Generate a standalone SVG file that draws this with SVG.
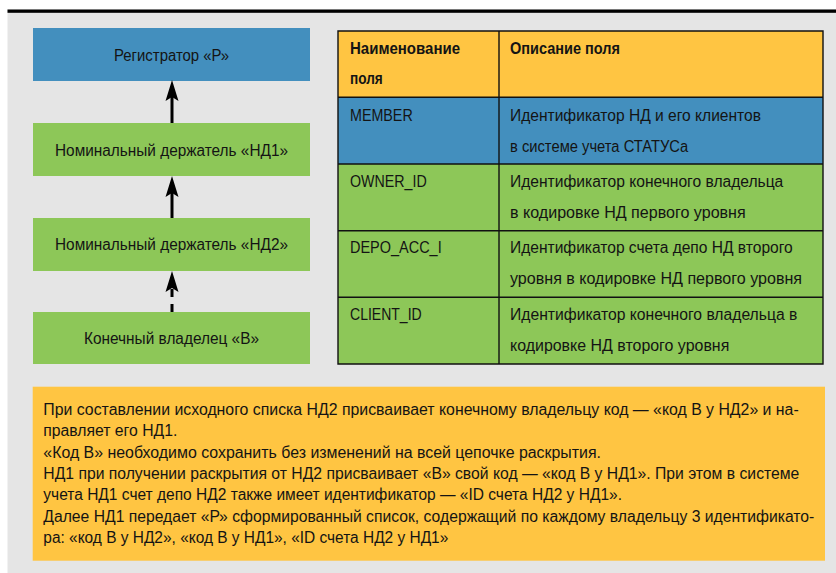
<svg xmlns="http://www.w3.org/2000/svg" width="836" height="573" viewBox="0 0 836 573">
<style>
text{font-family:"Liberation Sans",Arial,sans-serif;font-size:16px;fill:#141414}
.b{font-weight:bold}
.m{text-anchor:middle}
.blue{fill:#438fbe}
.green{fill:#8dc758}
.yellow{fill:#ffc542}
.grid{stroke:#111;stroke-width:1.4;fill:none}
.conn{stroke:#000;stroke-width:3;fill:none}
</style>
<defs>
<marker id="ah" markerUnits="userSpaceOnUse" markerWidth="24" markerHeight="14" refX="4" refY="6.5" orient="auto" overflow="visible">
<path d="M0,0 L21,6.5 L0,13 L4,6.5 Z" fill="#000"/>
</marker>
</defs>
<rect x="0" y="0" width="836" height="573" fill="#fff"/>
<rect x="7.5" y="9.5" width="828.5" height="563.5" fill="#e5e5e5"/>
<rect x="7.5" y="9.5" width="828.5" height="3.3" fill="#000"/>

<g id="node-registrar">
<rect class="blue" x="33" y="28" width="277" height="53"/>
<text class="m" x="171.5" y="60.5" textLength="115" lengthAdjust="spacingAndGlyphs">Регистратор «Р»</text>
</g>
<g id="node-nd1">
<rect class="green" x="33" y="123" width="277" height="53"/>
<text class="m" x="171.5" y="155.5" textLength="233" lengthAdjust="spacingAndGlyphs">Номинальный держатель «НД1»</text>
</g>
<g id="node-nd2">
<rect class="green" x="33" y="218" width="277" height="53"/>
<text class="m" x="171.5" y="250" textLength="233" lengthAdjust="spacingAndGlyphs">Номинальный держатель «НД2»</text>
</g>
<g id="node-owner">
<rect class="green" x="33" y="312" width="277" height="52"/>
<text class="m" x="171.5" y="344" textLength="175" lengthAdjust="spacingAndGlyphs">Конечный владелец «В»</text>
</g>

<g id="connectors">
<line class="conn" x1="172" y1="123" x2="172" y2="97" marker-end="url(#ah)"/>
<line class="conn" x1="172" y1="218" x2="172" y2="193" marker-end="url(#ah)"/>
<line class="conn" x1="172" y1="312" x2="172" y2="288" stroke-dasharray="8,7" marker-end="url(#ah)"/>
</g>

<g id="table">
<rect class="yellow" x="338" y="31" width="485" height="66.3"/>
<rect class="blue" x="338" y="97.3" width="485" height="66.7"/>
<rect class="green" x="338" y="164" width="485" height="200"/>
<path class="grid" d="M338,31H823V364H338Z M499,31V364 M338,97.3H823 M338,164H823 M338,230.7H823 M338,297.3H823"/>
<g id="row-header">
<text class="b" x="350" y="54" textLength="110" lengthAdjust="spacingAndGlyphs">Наименование</text>
<text class="b" x="350" y="84" textLength="32.7" lengthAdjust="spacingAndGlyphs">поля</text>
<text class="b" x="510" y="54" textLength="110" lengthAdjust="spacingAndGlyphs">Описание поля</text>
</g>
<g id="row-member">
<text x="350" y="121" textLength="62.7" lengthAdjust="spacingAndGlyphs">MEMBER</text>
<text x="510" y="121" textLength="251" lengthAdjust="spacingAndGlyphs">Идентификатор НД и его клиентов</text>
<text x="510" y="152" textLength="178.3" lengthAdjust="spacingAndGlyphs">в системе учета СТАТУСа</text>
</g>
<g id="row-owner">
<text x="350" y="187" textLength="76.7" lengthAdjust="spacingAndGlyphs">OWNER_ID</text>
<text x="510" y="187" textLength="273.3" lengthAdjust="spacingAndGlyphs">Идентификатор конечного владельца</text>
<text x="510" y="217.5" textLength="235.7" lengthAdjust="spacingAndGlyphs">в кодировке НД первого уровня</text>
</g>
<g id="row-depo">
<text x="350" y="253.3" textLength="91.7" lengthAdjust="spacingAndGlyphs">DEPO_ACC_I</text>
<text x="510" y="253.3" textLength="282.7" lengthAdjust="spacingAndGlyphs">Идентификатор счета депо НД второго</text>
<text x="510" y="284" textLength="292" lengthAdjust="spacingAndGlyphs">уровня в кодировке НД первого уровня</text>
</g>
<g id="row-client">
<text x="350" y="320" textLength="71.7" lengthAdjust="spacingAndGlyphs">CLIENT_ID</text>
<text x="510" y="320" textLength="287.3" lengthAdjust="spacingAndGlyphs">Идентификатор конечного владельца в</text>
<text x="510" y="350.7" textLength="219.3" lengthAdjust="spacingAndGlyphs">кодировке НД второго уровня</text>
</g>
</g>

<g id="note">
<rect class="yellow" x="32.7" y="386.7" width="792.3" height="174"/>
<text x="43.3" y="415" textLength="755.4" lengthAdjust="spacingAndGlyphs">При составлении исходного списка НД2 присваивает конечному владельцу код — «код В у НД2» и на-</text>
<text x="43.3" y="436.3" textLength="134" lengthAdjust="spacingAndGlyphs">правляет его НД1.</text>
<text x="43.3" y="457.6" textLength="557.7" lengthAdjust="spacingAndGlyphs">«Код В» необходимо сохранить без изменений на всей цепочке раскрытия.</text>
<text x="43.3" y="479" textLength="756" lengthAdjust="spacingAndGlyphs">НД1 при получении раскрытия от НД2 присваивает «В» свой код — «код В у НД1». При этом в системе</text>
<text x="43.3" y="500.3" textLength="578.7" lengthAdjust="spacingAndGlyphs">учета НД1 счет депо НД2 также имеет идентификатор — «ID счета НД2 у НД1».</text>
<text x="43.3" y="521.6" textLength="771" lengthAdjust="spacingAndGlyphs">Далее НД1 передает «Р» сформированный список, содержащий по каждому владельцу 3 идентификато-</text>
<text x="43.3" y="543" textLength="405" lengthAdjust="spacingAndGlyphs">ра: «код В у НД2», «код В у НД1», «ID счета НД2 у НД1»</text>
</g>
</svg>
